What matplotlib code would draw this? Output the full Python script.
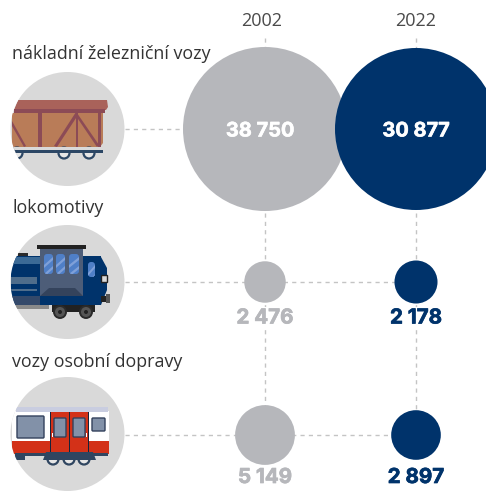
import matplotlib
matplotlib.use('Agg')
import matplotlib.pyplot as plt
from matplotlib.patches import Circle, Rectangle, Polygon, FancyBboxPatch
import matplotlib.patheffects as pe
import numpy as np

plt.rcParams['font.family'] = ['Open Sans', 'DejaVu Sans']

years = ['2002', '2022']
categories = ['nákladní železniční vozy', 'lokomotivy', 'vozy osobní dopravy']
values_2002 = [38750, 2476, 5149]
values_2022 = [30877, 2178, 2897]
labels_2002 = ['38 750', '2 476', '5 149']
labels_2022 = ['30 877', '2 178', '2 897']

GRAY = '#b6b7bb'
NAVY = '#00336b'
DASH = '#c4c4c4'
ICON_BG = '#d9d9d9'

# whole figure is in pixel coordinates of the picture
fig = plt.figure(figsize=(4.86, 4.92), dpi=100)
ax = fig.add_axes([0, 0, 1, 1])
ax.set_xlim(0, 486)
ax.set_ylim(492, 0)
ax.axis('off')

row_y = [129, 282, 435]
col_x = [265, 416]
scale = [0.4166, 0.461]  # each year has its own bubble scale
icon_x = 67.5
icon_r = 57
label_y = [131.5, 318.5, 478]


def dashes(x, y):
    ax.plot(x, y, color=DASH, lw=1, dashes=(3, 3), zorder=1)


for x in col_x:
    dashes([x, x], [38, 435])
for y in row_y:
    dashes([icon_x + icon_r, col_x[1]], [y, y])

for i, (vals, labs, k, x, col) in enumerate(zip([values_2002, values_2022], [labels_2002, labels_2022],
                                               scale, col_x, [GRAY, NAVY])):
    ax.text(x + (-3.5 if i == 0 else 0), 21, years[i], ha='center', va='center', fontsize=13, color='#4a4a4a')
    for j, (v, lab, y) in enumerate(zip(vals, labs, row_y)):
        r = k * np.sqrt(v)
        # label goes first so its white box stays under the bubble
        if j == 0:
            ax.add_patch(Circle((x, y), r, fc=col, ec='none', zorder=3))
            t = ax.text(x + (-5 if i == 0 else 0), label_y[j], lab, ha='center', va='center', fontsize=14.4,
                        family='Inter', fontweight='bold', color='white', zorder=5)
            t.set_path_effects([pe.withStroke(linewidth=0.4, foreground='white')])
        else:
            t = ax.text(x, label_y[j], lab, ha='center', va='center', fontsize=14.8,
                        family='Inter', fontweight='bold', color=col, zorder=2.5,
                        bbox=dict(fc='white', ec='none', pad=2))
            t.set_path_effects([pe.withStroke(linewidth=0.5, foreground=col)])
            ax.add_patch(Circle((x, y), r, fc=col, ec='none', zorder=3))

for name, y in zip(categories, [54, 208, 362]):
    ax.text(12, y, name, ha='left', va='center', fontsize=12.9, color='#333333')


# icons
def clipped(p, clip):
    ax.add_patch(p)
    p.set_clip_path(clip)
    return p


def icon_bg(y):
    c = Circle((icon_x, y), icon_r, fc=ICON_BG, ec='none', zorder=2)
    ax.add_patch(c)
    return c


def rect(x0, y0, x1, y1, col, clip, z=4):
    return clipped(Rectangle((x0, y0), x1 - x0, y1 - y0, fc=col, ec='none', zorder=z), clip)


def poly(pts, col, clip, z=4):
    return clipped(Polygon(pts, closed=True, fc=col, ec='none', zorder=z), clip)


# freight wagon
c = icon_bg(129)
wall = '#b97c58'
beam = '#8c4b56'
rail = '#2c4765'
poly([(12, 113), (103, 113), (103, 143), (100, 147), (12, 147)], wall, c)
poly([(18, 100), (107, 100), (108, 107), (106, 110), (14, 110)], '#a9625a', c)
rect(14, 109, 105, 113, beam, c, 5)
for a, b in [(38, 42), (75.5, 78), (98, 101)]:
    rect(a, 113, b, 147, beam, c, 5)
for pts in [[(12, 121), (26, 146), (24, 147), (12, 126)],
            [(54, 146), (76, 112), (78, 115), (57, 147)],
            [(77, 113), (99, 145), (97, 147), (76, 116)]]:
    poly(pts, beam, c, 5)
for wx in [17, 64, 89]:
    clipped(Circle((wx, 153), 5.5, fc='#e6e6e6', ec=rail, lw=1.6, zorder=4), c)
rect(12, 150, 103, 153, rail, c, 5)
rect(12, 147, 99, 150, '#d9d9d9', c, 4)

# locomotive
c = icon_bg(282)
cab = '#4d5d78'
rect(11, 256, 101, 305, NAVY, c)
rect(40, 249, 83, 296, cab, c, 5)
rect(37, 245, 86, 249, '#222222', c, 6)
poly([(40, 296), (49, 288), (75, 288), (83, 296)], '#34435c', c, 6)
for a, b, y0, y1 in [(44, 53, 254, 274), (56, 65, 254, 274), (69, 79, 254, 274), (88, 95, 262, 277)]:
    win = FancyBboxPatch((a + 3, y0 + 3), b - a - 6, y1 - y0 - 6, boxstyle='round,pad=3', fc='#4f7fc7', ec='none', zorder=6)
    clipped(win, c)
    for s in [y0 + 8, y0 + 17]:
        st = Polygon([(a, s + 3), (b, s - 5), (b, s - 2), (a, s + 6)], closed=True, fc='#7fa0d8', ec='none', zorder=7)
        ax.add_patch(st)
        st.set_clip_path(win)
rect(11, 257, 40, 264, '#3b6a96', c, 5)
rect(11, 277, 37, 284, '#4f6d8b', c, 5)
rect(11, 289, 37, 291, '#4f6d8b', c, 5)
rect(11, 296, 40, 305, '#34496a', c, 5)
rect(18, 253, 28, 256, '#2b2b2b', c, 5)
rect(15, 305, 49, 309, '#8a8a8a', c)
rect(52, 305, 95, 312, '#222222', c)
poly([(101, 257), (107, 268), (107, 290), (101, 305)], NAVY, c)
clipped(Rectangle((101, 274.5), 5.5, 7, fc='#d9d9d9', ec='#222222', lw=1, zorder=5), c)
rect(101, 296, 106, 302, '#222222', c, 5)
rect(106, 294, 110, 303, '#555555', c, 5)
for wx in [60, 86]:
    clipped(Circle((wx, 312), 6, fc='#555555', ec='#2b2b2b', lw=1.4, zorder=6), c)
    clipped(Circle((wx, 312), 2, fc='#222222', ec='none', zorder=7), c)

# passenger car
c = icon_bg(434)
red = '#d33118'
dark = '#2f4560'
rect(12, 411, 109, 442, 'white', c)
rect(16, 407, 108, 412, '#c9cde0', c, 5)
rect(12, 441, 109, 454, red, c)
rect(50, 412, 88, 452, red, c, 5)
for dx in [50, 69.5, 88]:
    rect(dx - 0.5, 412, dx + 0.5, 452, '#16233a', c, 6)
for a, b, y0, y1 in [(17, 44, 416, 438), (54, 66, 418, 437), (73, 85, 418, 437), (92, 105, 418, 431)]:
    clipped(FancyBboxPatch((a + 1, y0 + 1), b - a - 2, y1 - y0 - 2, boxstyle='round,pad=1', fc='#8291a8',
                           ec='#33415c', lw=1, zorder=6), c)
rect(52, 433, 53, 437, 'white', c, 6)
rect(85.5, 433, 86.5, 437, 'white', c, 6)
rect(15, 453, 108, 456, dark, c)
rect(15, 456, 25, 460, dark, c)
for wx in [53, 69, 84]:
    clipped(Circle((wx, 459), 5.5, fc='#e6e6e6', ec=dark, lw=1.6, zorder=4), c)
poly([(46, 452), (93, 452), (96, 460), (43, 460)], dark, c, 5)

fig.savefig('out.png', dpi=100)
